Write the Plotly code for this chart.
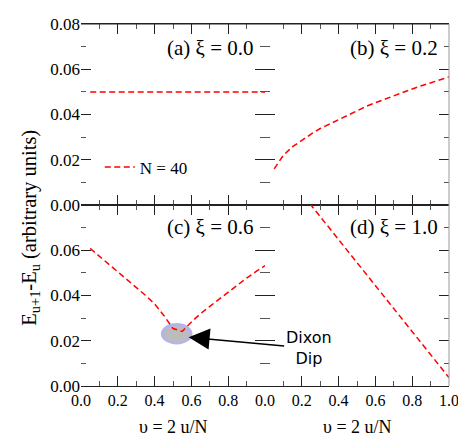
import plotly.graph_objects as go

# ---- data ----
upsilon = [0.05, 0.10, 0.15, 0.20, 0.25, 0.30, 0.35, 0.40, 0.45, 0.50,
           0.55, 0.60, 0.65, 0.70, 0.75, 0.80, 0.85, 0.90, 0.95, 1.00]
gap_xi00 = [0.050] * 20
gap_xi02 = [0.0160, 0.0220, 0.0258, 0.0287, 0.0313, 0.0338, 0.0358, 0.0378, 0.0398, 0.0418,
            0.0436, 0.0452, 0.0468, 0.0484, 0.0499, 0.0513, 0.0527, 0.0541, 0.0554, 0.0566]
gap_xi06 = [0.0608, 0.0574, 0.0540, 0.0506, 0.0472, 0.0437, 0.0401, 0.0363, 0.0312, 0.0254,
            0.0241, 0.0283, 0.0320, 0.0352, 0.0384, 0.0415, 0.0446, 0.0477, 0.0505, 0.0532]
gap_xi10 = [0.1003, 0.0952, 0.0901, 0.0851, 0.0800, 0.0750, 0.0698, 0.0646, 0.0594, 0.0543,
            0.0492, 0.0441, 0.0390, 0.0339, 0.0288, 0.0237, 0.0186, 0.0135, 0.0085, 0.0037]

panel_labels = ["(a) ξ = 0.0", "(b) ξ = 0.2", "(c) ξ = 0.6", "(d) ξ = 1.0"]
x_tickvals_c = [0.0, 0.2, 0.4, 0.6, 0.8]
x_ticktext_c = ["0.0", "0.2", "0.4", "0.6", "0.8"]
x_tickvals_d = [0.0, 0.2, 0.4, 0.6, 0.8, 1.0]
x_ticktext_d = ["0.0", "0.2", "0.4", "0.6", "0.8", "1.0"]
y_tickvals_a = [0.00, 0.02, 0.04, 0.06, 0.08]
y_ticktext_a = ["0.00", "0.02", "0.04", "0.06", "0.08"]
y_tickvals_c = [0.00, 0.02, 0.04, 0.06]
y_ticktext_c = ["0.00", "0.02", "0.04", "0.06"]
x_minor = [0.1, 0.3, 0.5, 0.7, 0.9]
y_minor = [0.01, 0.03, 0.05, 0.07]

SERIF = "Liberation Serif"
RED = "#ff0000"
DASH = "6px,3.5px"

fig = go.Figure()
series = [gap_xi00, gap_xi02, gap_xi06, gap_xi10]
for i, vals in enumerate(series):
    sfx = "" if i == 0 else str(i + 1)
    fig.add_trace(go.Scatter(
        x=upsilon, y=vals, mode="lines", name="N = 40",
        line=dict(color=RED, width=1.5, dash=DASH),
        xaxis="x" + sfx, yaxis="y" + sfx, showlegend=(i == 0),
    ))

def xax(domain, anchor, vals, labels, show):
    return dict(
        domain=domain, anchor=anchor, range=[0, 1], showgrid=False, zeroline=False,
        showline=True, linecolor="#222", linewidth=1, mirror="ticks",
        ticks="inside", ticklen=10, tickwidth=1, tickcolor="#222",
        tickmode="array", tickvals=vals, ticktext=labels, showticklabels=show,
        ticklabeloverflow="allow",
        tickfont=dict(family=SERIF, size=16, color="black"),
        minor=dict(ticks="inside", ticklen=5, tickcolor="#555", tickmode="array", tickvals=x_minor),
    )

def yax(domain, anchor, vals, labels, show):
    return dict(
        domain=domain, anchor=anchor, range=[0, 0.08], showgrid=False, zeroline=False,
        showline=False, mirror="ticks",
        ticks="inside", ticklen=10, tickwidth=1, tickcolor="#222",
        tickmode="array", tickvals=vals, ticktext=labels, showticklabels=show,
        ticklabeloverflow="allow",
        tickfont=dict(family=SERIF, size=17, color="black"),
        minor=dict(ticks="inside", ticklen=5, tickcolor="#555", tickmode="array", tickvals=y_minor),
    )

# page body has an 8px margin: shrink the figure so the plot lands where the reference has it
fig.update_layout(
    width=458, height=429,
    margin=dict(l=73, r=14, t=7, b=51),
    paper_bgcolor="white", plot_bgcolor="white",
    font=dict(family=SERIF, color="black"),
    xaxis=xax([0, 0.5], "y", x_tickvals_d, x_ticktext_d, False),
    yaxis=yax([0.5, 1], "x", y_tickvals_a, y_ticktext_a, True),
    xaxis2=xax([0.5, 1], "y2", x_tickvals_d, x_ticktext_d, False),
    yaxis2=yax([0.5, 1], "x2", y_tickvals_a, y_ticktext_a, False),
    xaxis3=xax([0, 0.5], "y3", x_tickvals_c, x_ticktext_c, True),
    yaxis3=yax([0, 0.5], "x3", y_tickvals_c, y_ticktext_c, True),
    xaxis4=xax([0.5, 1], "y4", x_tickvals_d, x_ticktext_d, True),
    yaxis4=yax([0, 0.5], "x4", y_tickvals_a, y_ticktext_a, False),
    legend=dict(x=0.051, y=0.604, xanchor="left", yanchor="middle",
                bgcolor="rgba(0,0,0,0)", font=dict(family=SERIF, size=17, color="black")),
)

# frame lines: top border and right border
fig.add_shape(type="line", xref="paper", yref="paper", x0=0, x1=1, y0=1, y1=1,
              line=dict(color="#222", width=1))
fig.add_shape(type="line", xref="paper", yref="paper", x0=1, x1=1, y0=0, y1=1,
              line=dict(color="#999", width=1))

# panel labels
pos = [("x", "y", 0.865), ("x2", "y2", 0.865), ("x3", "y3", 0.879), ("x4", "y4", 0.879)]
for (xr, yr, yy), lab in zip(pos, panel_labels):
    fig.add_annotation(text=lab, xref=xr + " domain", yref=yr + " domain", x=0.953, y=yy,
                       xanchor="right", yanchor="middle", showarrow=False,
                       font=dict(family=SERIF, size=21, color="black"))

# Dixon dip highlight
fig.add_shape(type="circle", xref="x3", yref="y3", x0=0.520 - 0.086, x1=0.520 + 0.086,
              y0=0.0231 - 0.00474, y1=0.0231 + 0.00474, layer="below",
              fillcolor="#b4b4ea", line=dict(width=0))
fig.add_shape(type="circle", xref="x3", yref="y3", x0=0.520 - 0.067, x1=0.520 + 0.067,
              y0=0.0229 - 0.00358, y1=0.0229 + 0.00358, layer="below",
              fillcolor="#bcbcbc", line=dict(width=0))
fig.add_annotation(text="Dixon<br>Dip", xref="x3", yref="y3", x=0.585, y=0.0216, ax=120, ay=11,
                   showarrow=True, arrowhead=2, arrowsize=2.8, arrowwidth=1.5, arrowcolor="black",
                   align="center", font=dict(family="DejaVu Sans", size=16, color="black"))

# axis titles
fig.add_annotation(text="E<sub>u+1</sub>-E<sub>u</sub> (arbitrary units)", textangle=-90,
                   xref="paper", yref="paper", x=-0.138, y=0.438, xanchor="center", yanchor="middle",
                   showarrow=False, font=dict(family=SERIF, size=20.5, color="black"))
for xr in ["x3", "x4"]:
    fig.add_annotation(text="υ = 2 u/N", xref=xr + " domain", yref="paper", x=0.5, y=-0.113,
                       xanchor="center", yanchor="middle", showarrow=False,
                       font=dict(family=SERIF, size=18, color="black"))

fig.write_html("out.html")
